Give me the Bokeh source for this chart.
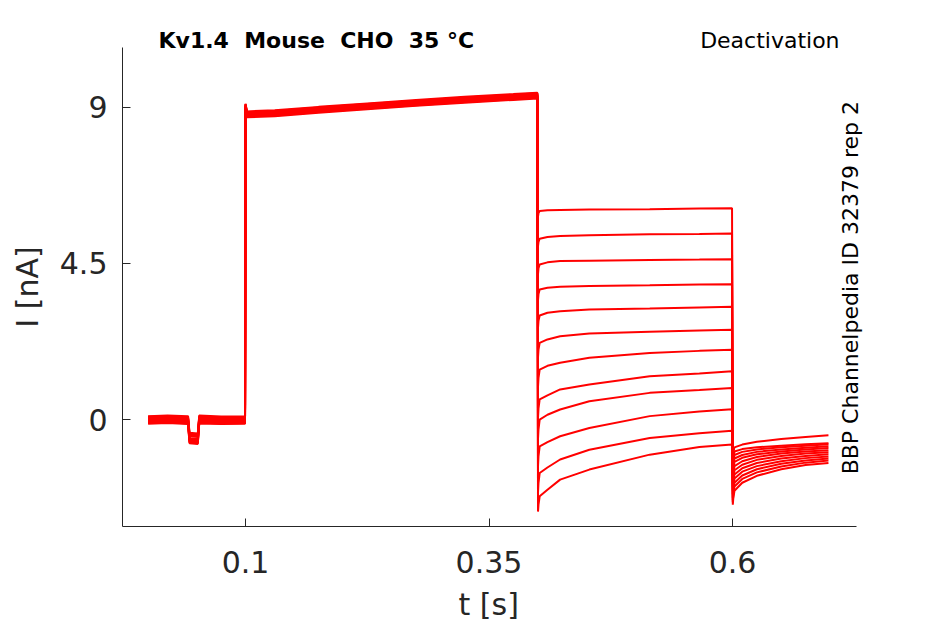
import math
from bokeh.plotting import figure
from bokeh.models import Label, FixedTicker, Range1d
from bokeh.embed import file_html
from bokeh.resources import INLINE

# ---- data (time in s, current in nA) ----
t_pre = [0.0, 0.02, 0.041, 0.0425, 0.051, 0.0525, 0.075, 0.0995]
I_pre = [
    [0.10, 0.12, 0.10, -0.38, -0.40, 0.12, 0.09, 0.10],
    [0.06, 0.08, 0.05, -0.44, -0.46, 0.07, 0.05, 0.06],
    [0.03, 0.05, 0.02, -0.48, -0.50, 0.04, 0.02, 0.03],
    [0.00, 0.02, -0.01, -0.54, -0.56, 0.01, -0.01, 0.00],
    [-0.03, -0.01, -0.04, -0.58, -0.60, -0.02, -0.04, -0.03],
    [-0.06, -0.04, -0.07, -0.63, -0.65, -0.05, -0.07, -0.06],
    [-0.10, -0.08, -0.11, -0.68, -0.70, -0.09, -0.11, -0.10],
    [0.08, 0.10, 0.07, -0.41, -0.43, 0.09, 0.07, 0.08],
    [0.04, 0.06, 0.03, -0.46, -0.48, 0.05, 0.03, 0.04],
    [-0.02, 0.00, -0.03, -0.56, -0.58, -0.01, -0.03, -0.02],
    [-0.08, -0.06, -0.09, -0.60, -0.62, -0.07, -0.09, -0.08],
    [-0.12, -0.10, -0.13, -0.66, -0.68, -0.11, -0.13, -0.12],
]

t_act = [0.1, 0.1015, 0.13, 0.175, 0.225, 0.275, 0.325, 0.375, 0.3996]
I_act = [
    [9.10, 8.88, 8.91, 9.01, 9.11, 9.21, 9.30, 9.38, 9.42],
    [9.08, 8.85, 8.88, 8.98, 9.08, 9.18, 9.27, 9.35, 9.39],
    [9.06, 8.83, 8.86, 8.96, 9.06, 9.16, 9.25, 9.33, 9.37],
    [9.05, 8.81, 8.84, 8.94, 9.04, 9.14, 9.23, 9.31, 9.35],
    [9.04, 8.79, 8.82, 8.92, 9.02, 9.12, 9.21, 9.29, 9.33],
    [9.03, 8.77, 8.80, 8.90, 9.00, 9.10, 9.19, 9.27, 9.31],
    [9.02, 8.75, 8.78, 8.88, 8.98, 9.08, 9.17, 9.25, 9.29],
    [9.00, 8.73, 8.76, 8.86, 8.96, 9.06, 9.15, 9.23, 9.27],
    [9.09, 8.86, 8.89, 8.99, 9.09, 9.19, 9.28, 9.36, 9.40],
    [8.99, 8.71, 8.74, 8.84, 8.94, 9.04, 9.13, 9.21, 9.25],
    [9.05, 8.80, 8.83, 8.93, 9.03, 9.13, 9.22, 9.30, 9.34],
    [9.02, 8.76, 8.79, 8.89, 8.99, 9.09, 9.18, 9.26, 9.30],
]

t_tail = [0.4003, 0.4008, 0.402, 0.41, 0.423, 0.453, 0.515, 0.566, 0.5995]
I_tail = [
    [5.85, 5.95, 6.01, 6.03, 6.04, 6.05, 6.06, 6.08, 6.09],
    [5.00, 5.12, 5.21, 5.26, 5.29, 5.31, 5.34, 5.35, 5.36],
    [4.20, 4.36, 4.47, 4.53, 4.57, 4.58, 4.60, 4.61, 4.62],
    [3.45, 3.62, 3.75, 3.80, 3.83, 3.85, 3.87, 3.89, 3.90],
    [2.65, 2.85, 3.00, 3.08, 3.12, 3.17, 3.20, 3.23, 3.25],
    [1.80, 2.02, 2.21, 2.31, 2.40, 2.48, 2.53, 2.57, 2.59],
    [0.95, 1.20, 1.44, 1.55, 1.64, 1.78, 1.92, 1.98, 2.01],
    [0.05, 0.32, 0.58, 0.70, 0.87, 1.01, 1.25, 1.33, 1.39],
    [-0.55, -0.28, 0.00, 0.14, 0.29, 0.53, 0.77, 0.85, 0.91],
    [-1.35, -1.05, -0.77, -0.65, -0.48, -0.24, 0.10, 0.23, 0.30],
    [-2.10, -1.82, -1.54, -1.38, -1.15, -0.87, -0.53, -0.39, -0.32],
    [-2.65, -2.45, -2.21, -2.02, -1.73, -1.44, -1.01, -0.79, -0.72],
]

t_deact = [0.6003, 0.6008, 0.602, 0.61, 0.625, 0.65, 0.675, 0.6985]
I_deact = [
    [-1.20, -0.95, -0.80, -0.72, -0.64, -0.56, -0.50, -0.45],
    [-1.50, -1.15, -0.92, -0.85, -0.80, -0.75, -0.71, -0.68],
    [-1.60, -1.25, -1.02, -0.93, -0.86, -0.80, -0.75, -0.71],
    [-1.70, -1.36, -1.12, -1.02, -0.93, -0.86, -0.81, -0.77],
    [-1.85, -1.48, -1.22, -1.10, -1.00, -0.92, -0.86, -0.82],
    [-1.95, -1.60, -1.34, -1.20, -1.08, -0.98, -0.92, -0.88],
    [-2.05, -1.72, -1.46, -1.30, -1.16, -1.05, -0.98, -0.94],
    [-2.15, -1.84, -1.58, -1.40, -1.25, -1.12, -1.05, -1.00],
    [-2.25, -1.96, -1.70, -1.50, -1.34, -1.20, -1.11, -1.06],
    [-2.32, -2.06, -1.82, -1.61, -1.43, -1.27, -1.18, -1.12],
    [-2.38, -2.16, -1.93, -1.71, -1.52, -1.35, -1.24, -1.18],
    [-2.45, -2.26, -2.05, -1.82, -1.62, -1.43, -1.31, -1.25],
]

x_ticks = [0.1, 0.35, 0.6]
x_tick_labels = ["0.1", "0.35", "0.6"]
y_ticks = [0, 4.5, 9]
y_tick_labels = ["0", "4.5", "9"]

title_text = "Kv1.4\u00a0 Mouse\u00a0 CHO\u00a0 35 \u00b0C"
protocol_text = "Deactivation"
source_text = "BBP Channelpedia ID 32379 rep 2"
x_label = "t [s]\u00a0"          # trailing nbsp re-centres the label on the drawn axis
y_label = "I [nA]\u00a0\u00a0"

# ---- figure ----
X0, X_AXIS_END = -0.0263, 0.7273
X1 = 0.7355         # frame extends a little right of the axis end for the rotated note
Y0, Y_AXIS_TOP = -3.08, 10.72
Y1 = 11.268         # frame extends above the axis top to hold the header texts

p = figure(width=940, height=624, output_backend="svg", toolbar_location=None,
           x_range=Range1d(X0, X1), y_range=Range1d(Y0, Y1),
           min_border_left=122, min_border_right=76,
           min_border_top=28, min_border_bottom=98)
p.outline_line_color = None
p.xgrid.visible = False
p.ygrid.visible = False
p.background_fill_color = "white"
p.border_fill_color = "white"

xs, ys = [], []
for k in range(len(I_pre)):
    xs.append(t_pre + t_act + t_tail + t_deact)
    ys.append(I_pre[k] + I_act[k] + I_tail[k] + I_deact[k])
p.multi_line(xs, ys, line_color="#ff0000", line_width=2)

AX = "#262626"
FONT = "DejaVu Sans"
for ax in (p.xaxis[0], p.yaxis[0]):
    ax.axis_line_color = AX
    ax.major_tick_line_color = AX
    ax.minor_tick_line_color = None
    ax.major_tick_in = 8
    ax.major_tick_out = 0
    ax.major_label_text_font = FONT
    ax.major_label_text_font_size = "30px"
    ax.major_label_text_color = AX
    ax.axis_label_text_font = FONT
    ax.axis_label_text_font_size = "30px"
    ax.axis_label_text_color = AX
    ax.axis_label_text_font_style = "normal"

p.xaxis[0].ticker = FixedTicker(ticks=x_ticks)
p.xaxis[0].major_label_overrides = dict(zip(x_ticks, x_tick_labels))
p.xaxis[0].major_label_standoff = 24
p.xaxis[0].bounds = (X0, X_AXIS_END)
p.xaxis[0].axis_label = x_label
p.xaxis[0].axis_label_standoff = 11

p.yaxis[0].ticker = FixedTicker(ticks=y_ticks)
p.yaxis[0].major_label_overrides = dict(zip(y_ticks, y_tick_labels))
p.yaxis[0].major_label_standoff = 15
p.yaxis[0].bounds = (Y0, Y_AXIS_TOP)
p.yaxis[0].axis_label = y_label
p.yaxis[0].axis_label_standoff = 12

# header texts and the rotated source note (inside the frame)
p.add_layout(Label(x=0.0107, y=Y_AXIS_TOP, y_offset=7, text=title_text, text_font=FONT,
                   text_font_style="bold", text_font_size="22px", text_color="black",
                   text_align="left", text_baseline="middle"))
p.add_layout(Label(x=0.7099, y=Y_AXIS_TOP, y_offset=7, text=protocol_text, text_font=FONT,
                   text_font_size="22px", text_color="black",
                   text_align="right", text_baseline="middle"))
p.add_layout(Label(x=0.7211, y=3.80, text=source_text, angle=math.pi / 2, text_font=FONT,
                   text_font_size="22px", text_color="black",
                   text_align="center", text_baseline="middle"))

open("out.html", "w").write(file_html(p, INLINE))
